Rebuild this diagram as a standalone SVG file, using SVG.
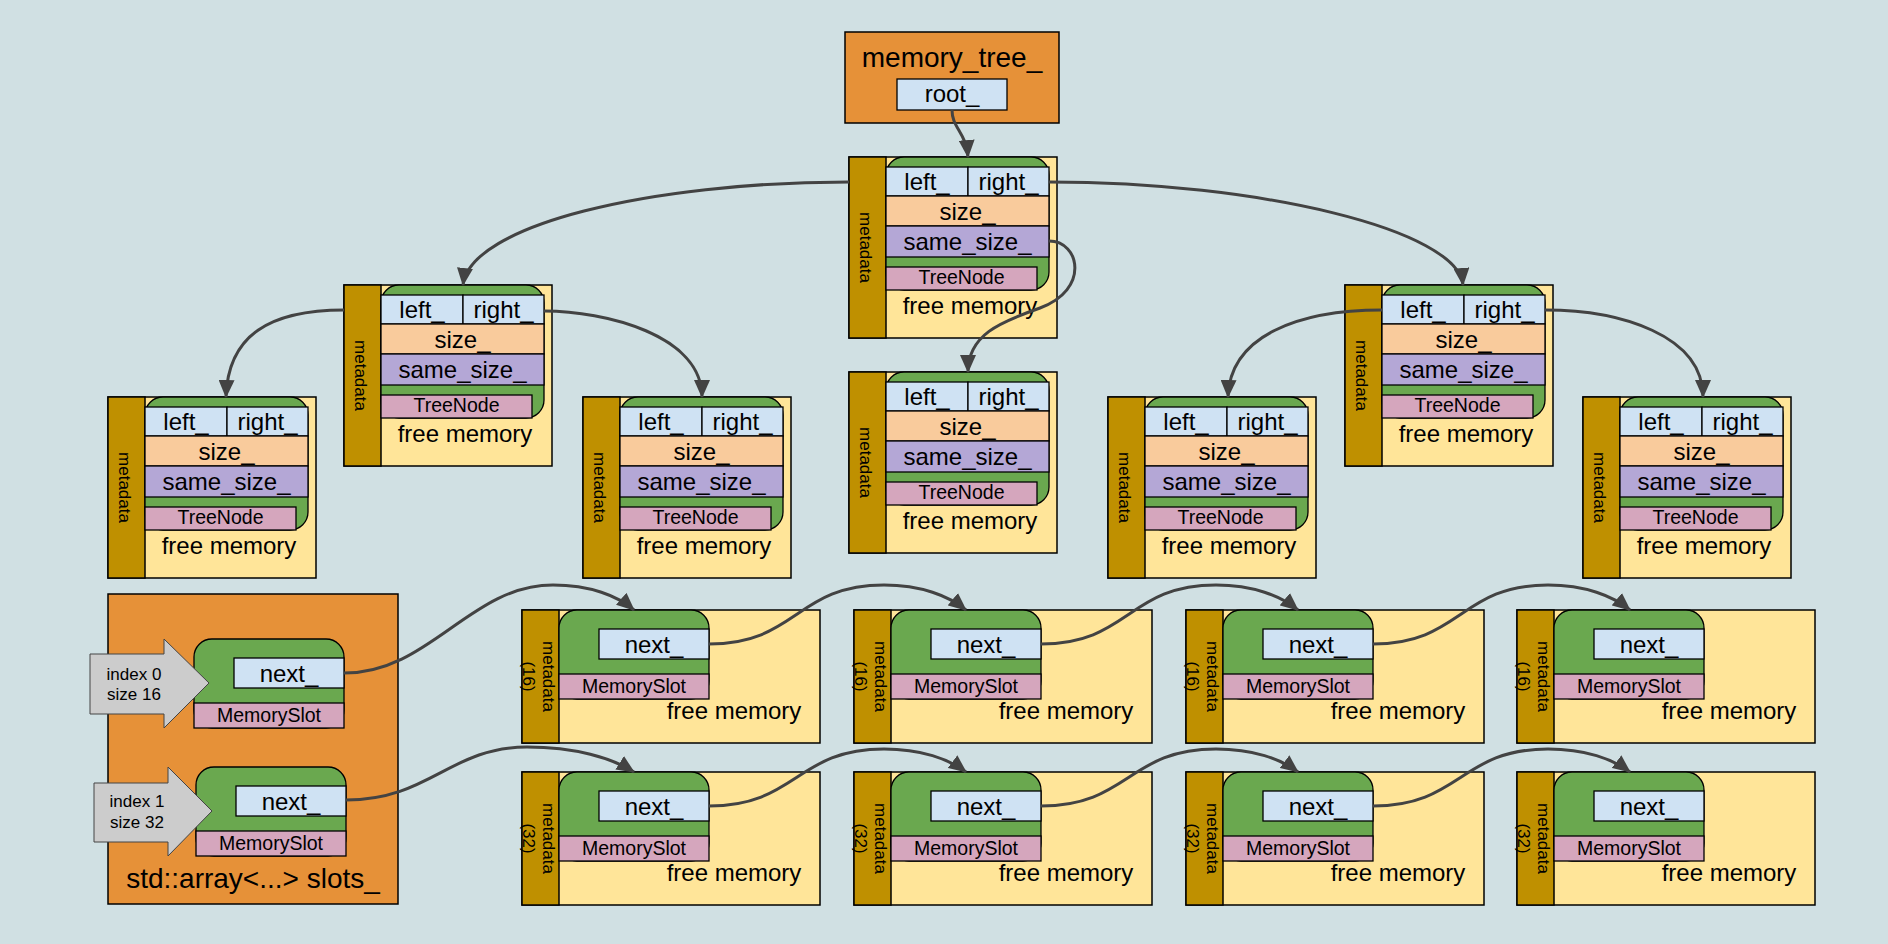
<svg xmlns="http://www.w3.org/2000/svg" width="1888" height="944" viewBox="0 0 1888 944">
<style>
.bg{fill:#d0e0e3}
.org{fill:#e69138;stroke:#000;stroke-width:1.5}
.yel{fill:#ffe599;stroke:#000;stroke-width:1.5}
.strip{fill:#bf9000;stroke:#000;stroke-width:1.5}
.green{fill:#6aa84f;stroke:#000;stroke-width:1.3}
.blue{fill:#cfe2f3;stroke:#000;stroke-width:1.3}
.peach{fill:#f9cb9c;stroke:#000;stroke-width:1.3}
.purple{fill:#b4a7d6;stroke:#000;stroke-width:1.3}
.pink{fill:#d5a6bd;stroke:#000;stroke-width:1.3}
.grey{fill:#cccccc;stroke:#444;stroke-width:1}
text{font-family:"Liberation Sans",Arial,sans-serif;fill:#000;text-anchor:middle}
.t24{font-size:24px}
.t20{font-size:19.5px}
.t17{font-size:17px}
.t28{font-size:28px}
.conn{fill:none;stroke:#434343;stroke-width:3;marker-end:url(#ah)}
</style>
<defs>
<marker id="ah" markerUnits="userSpaceOnUse" markerWidth="19" markerHeight="16" refX="17" refY="8" orient="auto" viewBox="0 0 19 16">
<path d="M0,0 L18,8 L0,16 z" fill="#434343"/>
</marker>
<g id="treenode">
<rect class="yel" x="0" y="0" width="208" height="181"/>
<rect class="strip" x="0" y="0" width="37" height="181"/>
<rect class="green" x="37" y="0" width="163" height="133" rx="18"/>
<rect class="blue" x="37" y="10" width="82" height="29"/>
<rect class="blue" x="119" y="10" width="81" height="29"/>
<rect class="peach" x="37" y="39" width="163" height="30"/>
<rect class="purple" x="37" y="69" width="163" height="31"/>
<rect class="pink" x="37" y="110" width="151" height="23"/>
<text class="t24" x="78" y="33">left_</text>
<text class="t24" x="159.5" y="33">right_</text>
<text class="t24" x="118.5" y="63">size_</text>
<text class="t24" x="118.5" y="93">same_size_</text>
<text class="t20" x="112.5" y="127">TreeNode</text>
<text class="t24" x="121" y="157">free memory</text>
<text class="t17" transform="translate(11,90.5) rotate(90)">metadata</text>
</g>
<g id="slot">
<rect class="green" x="37" y="0" width="150" height="89" rx="18"/>
<rect class="blue" x="77" y="19" width="110" height="30"/>
<rect class="pink" x="37" y="64" width="150" height="25"/>
<text class="t24" x="132" y="43">next_</text>
<text class="t20" x="112" y="83">MemorySlot</text>
</g>
<g id="slotnode16">
<rect class="yel" x="0" y="0" width="298" height="133"/>
<rect class="strip" x="0" y="0" width="37" height="133"/>
<use href="#slot"/>
<text class="t24" x="212" y="109">free memory</text>
<text class="t17" transform="translate(21,66.5) rotate(90)">metadata<tspan x="0" dy="20">(16)</tspan></text>
</g>
<g id="slotnode32">
<rect class="yel" x="0" y="0" width="298" height="133"/>
<rect class="strip" x="0" y="0" width="37" height="133"/>
<use href="#slot"/>
<text class="t24" x="212" y="109">free memory</text>
<text class="t17" transform="translate(21,66.5) rotate(90)">metadata<tspan x="0" dy="20">(32)</tspan></text>
</g>
</defs>
<rect class="bg" x="0" y="0" width="1888" height="944"/>

<g id="memory_tree">
<rect class="org" x="845" y="32" width="214" height="91"/>
<text class="t28" x="952" y="67">memory_tree_</text>
<rect class="blue" x="897" y="79" width="110" height="31"/>
<text class="t24" x="952" y="102">root_</text>
</g>

<g id="tree_root"><use href="#treenode" x="849" y="157"/></g>
<g id="tree_l"><use href="#treenode" x="344" y="285"/></g>
<g id="tree_ll"><use href="#treenode" x="108" y="397"/></g>
<g id="tree_lr"><use href="#treenode" x="583" y="397"/></g>
<g id="tree_same"><use href="#treenode" x="849" y="372"/></g>
<g id="tree_rl"><use href="#treenode" x="1108" y="397"/></g>
<g id="tree_r"><use href="#treenode" x="1345" y="285"/></g>
<g id="tree_rr"><use href="#treenode" x="1583" y="397"/></g>

<g id="slots_array">
<rect class="org" x="108" y="594" width="290" height="310"/>
<text class="t28" x="253" y="888">std::array&lt;...&gt; slots_</text>
<use href="#slot" x="157" y="639"/>
<use href="#slot" x="159" y="767"/>
<polygon class="grey" points="90,654 164,654 164,639 209,683 164,728 164,714 90,714"/>
<text class="t17" x="134" y="680">index 0</text>
<text class="t17" x="134" y="700">size 16</text>
<polygon class="grey" points="94,783 168,783 168,767 212,811 168,856 168,842 94,842"/>
<text class="t17" x="137" y="807">index 1</text>
<text class="t17" x="137" y="828">size 32</text>
</g>

<g id="slot16_0"><use href="#slotnode16" x="522" y="610"/></g>
<g id="slot16_1"><use href="#slotnode16" x="854" y="610"/></g>
<g id="slot16_2"><use href="#slotnode16" x="1186" y="610"/></g>
<g id="slot16_3"><use href="#slotnode16" x="1517" y="610"/></g>
<g id="slot32_0"><use href="#slotnode32" x="522" y="772"/></g>
<g id="slot32_1"><use href="#slotnode32" x="854" y="772"/></g>
<g id="slot32_2"><use href="#slotnode32" x="1186" y="772"/></g>
<g id="slot32_3"><use href="#slotnode32" x="1517" y="772"/></g>

<g id="connectors">
<path class="conn" d="M952,110 C952,128 966,132 968,157"/>
<path class="conn" d="M849,182 C650,182 470,225 463,285"/>
<path class="conn" d="M1049,182 C1260,182 1458,230 1463,285"/>
<path class="conn" d="M1049,241 C1080,241 1090,290 1040,308 C1000,322 968,335 968,372"/>
<path class="conn" d="M344,310 C270,310 228,335 226,397"/>
<path class="conn" d="M544,311 C605,311 702,335 702,397"/>
<path class="conn" d="M1382,310 C1300,310 1230,335 1228,397"/>
<path class="conn" d="M1545,310 C1620,310 1703,335 1703,397"/>

<path class="conn" d="M344,673 C430,673 470,585 553,585 C590,585 618,596 634,610"/>
<path class="conn" d="M709,644 C797,644 796,585 884,585 C921,585 949,596 966,610"/>
<path class="conn" d="M1041,644 C1129,644 1128,585 1216,585 C1253,585 1281,596 1298,610"/>
<path class="conn" d="M1373,644 C1461,644 1460,585 1548,585 C1585,585 1613,596 1630,610"/>

<path class="conn" d="M346,800 C430,800 450,747 527,747 C575,747 612,758 634,772"/>
<path class="conn" d="M709,806 C797,806 796,749 884,749 C921,749 949,759 966,772"/>
<path class="conn" d="M1041,806 C1129,806 1128,749 1216,749 C1253,749 1281,759 1298,772"/>
<path class="conn" d="M1373,806 C1461,806 1460,749 1548,749 C1585,749 1613,759 1630,772"/>
</g>
</svg>
